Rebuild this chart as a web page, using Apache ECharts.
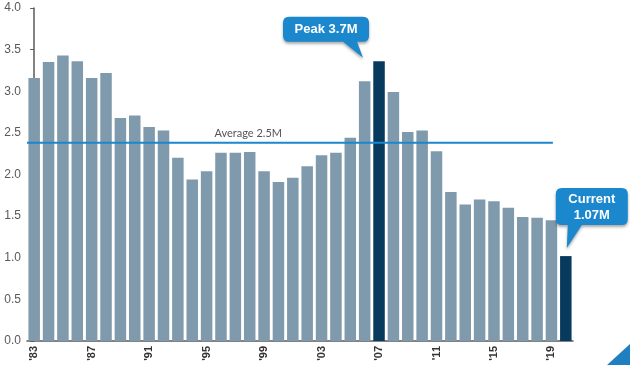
<!DOCTYPE html>
<html>
<head>
<meta charset="utf-8">
<script src="https://cdn.jsdelivr.net/npm/echarts@6/dist/echarts.min.js"></script>
<style>html,body{margin:0;padding:0;background:#fff}#c{width:630px;height:365px}</style>
</head>
<body>
<div id="c"></div>
<script>
var years = ["'83","'84","'85","'86","'87","'88","'89","'90","'91","'92","'93","'94","'95","'96","'97","'98","'99","'00","'01","'02","'03","'04","'05","'06","'07","'08","'09","'10","'11","'12","'13","'14","'15","'16","'17","'18","'19","'20"];
var values = [3.16,3.35,3.43,3.36,3.16,3.22,2.68,2.71,2.57,2.53,2.20,1.94,2.04,2.26,2.26,2.27,2.04,1.91,1.96,2.10,2.23,2.26,2.44,3.12,3.36,2.99,2.51,2.53,2.28,1.79,1.64,1.70,1.68,1.60,1.49,1.48,1.45,1.02];
var highlighted = ["'07","'20"];
var averageValue = 2.38;
var averageSpan = [-0.5, 14.9, 36.1];
var averageText = 'Average 2.5M';
var peakText = 'Peak 3.7M';
var currentText = 'Current\n1.07M';
var yTicks = [0,0.5,1,1.5,2,2.5,3,3.5,4];

var GREY = '#7f9aac', DARK = '#073a5d', BLUE = '#1b87cd';
var barData = values.map(function(v,i){
  return highlighted.indexOf(years[i])>=0 ? {value:v,itemStyle:{color:DARK}} : v;
});
var avgData = averageSpan.map(function(x){return [x, averageValue];});

var chart = echarts.init(document.getElementById('c'), null, {renderer:'canvas'});
chart.setOption({
  animation:false,
  grid:{left:27,right:57,top:8,bottom:24,containLabel:false},
  xAxis:[{
    type:'category', data:years,
    axisLine:{lineStyle:{color:'#5a5a5a',width:1.5}},
    axisTick:{show:false},
    axisLabel:{interval:3,rotate:90,color:'#333',fontWeight:'bold',fontSize:11,fontFamily:'Liberation Sans',margin:5}
  },{
    type:'value', min:-0.5, max:years.length-0.5, show:false
  }],
  yAxis:{
    type:'value', min:yTicks[0], max:yTicks[yTicks.length-1], interval:0.5,
    splitLine:{show:false},
    axisLine:{show:true,lineStyle:{color:'#5a5a5a',width:1.5}},
    axisTick:{show:true,length:4,lineStyle:{color:'#5a5a5a'}},
    axisLabel:{color:'#595959',fontSize:12,fontFamily:'Liberation Sans',margin:6,formatter:function(v){return v.toFixed(1);}}
  },
  graphic:[{type:'polygon',shape:{points:[[630,344],[630,365],[607,365]]},style:{fill:'#1f7fbf'}}],
  series:[{
    type:'bar', data:barData, barCategoryGap:'20%',
    itemStyle:{color:GREY},
    markPoint:{
      silent:true,
      data:[{
        coord:["'07",values[years.indexOf("'07")]],
        symbol:'path://M6,0 H80 Q86,0 86,6 V19 Q86,25 80,25 H74 L80,41 L60,25 H6 Q0,25 0,19 V6 Q0,0 6,0 Z',
        symbolSize:[86,41], symbolOffset:[-53,-24],
        itemStyle:{color:BLUE,shadowColor:'rgba(0,0,0,0.35)',shadowBlur:3,shadowOffsetY:2},
        label:{show:true,formatter:peakText,color:'#fff',fontWeight:'bold',fontSize:13,fontFamily:'Liberation Sans',offset:[0,-8]}
      },{
        coord:["'20",values[years.indexOf("'20")]],
        symbol:'path://M6,0 H66 Q72,0 72,6 V31 Q72,37 66,37 H26 L11,60 L12,37 H6 Q0,37 0,31 V6 Q0,0 6,0 Z',
        symbolSize:[72,60], symbolOffset:[26,-38],
        itemStyle:{color:BLUE,shadowColor:'rgba(0,0,0,0.35)',shadowBlur:3,shadowOffsetY:2},
        label:{show:true,formatter:currentText,color:'#fff',fontWeight:'bold',fontSize:13,lineHeight:16,fontFamily:'Liberation Sans',offset:[0,-11]}
      }]
    }
  },{
    type:'line', xAxisIndex:1, data:avgData, silent:true,
    symbol:'circle', symbolSize:0,
    lineStyle:{color:BLUE,width:2},
    label:{show:true,position:'top',distance:4,color:'#555',fontSize:11,fontFamily:'Lato',
      formatter:function(p){return p.dataIndex===1?averageText:'';}}
  }]
});
</script>
</body>
</html>
